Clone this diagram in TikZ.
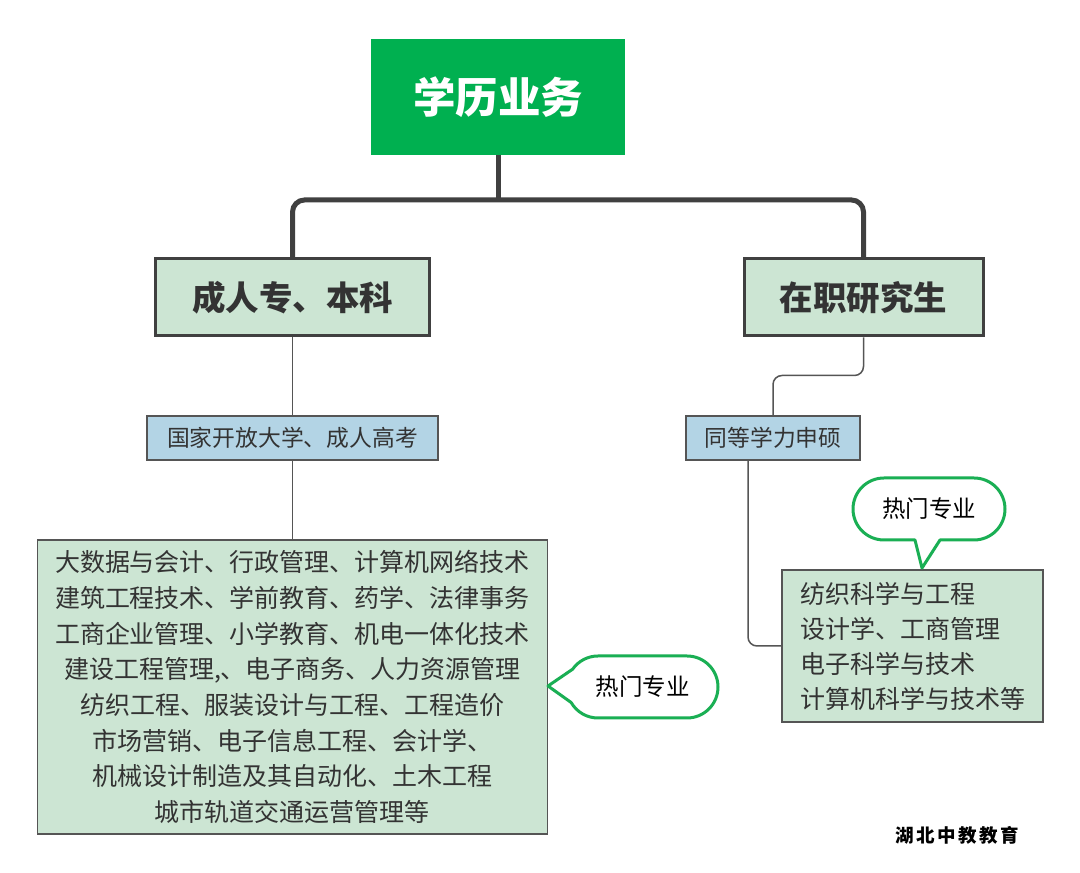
\documentclass[tikz,border=0pt]{standalone}
\usepackage{fontspec}
\setmainfont{Noto Sans CJK SC}
\newfontfamily\wmfont[LetterSpace=14]{Noto Sans CJK SC}
\usetikzlibrary{calc}
\definecolor{tgreen}{HTML}{00B050}
\definecolor{lgreen}{HTML}{CCE5D3}
\definecolor{lblue}{HTML}{B3D4E5}
\definecolor{dk}{HTML}{404040}
\definecolor{ln}{HTML}{555555}
\definecolor{cgreen}{HTML}{1AAF54}
\definecolor{txt}{HTML}{333333}
\begin{document}
\begin{tikzpicture}[x=1pt,y=1pt,
  titlebox/.style={fill=tgreen, draw=none, minimum width=254pt, minimum height=116pt, text=white, font=\fontsize{42.5}{46}\selectfont\bfseries},
  lvbox/.style={draw=dk, line width=3pt, fill=lgreen, minimum height=77pt, text=txt, font=\fontsize{33.5}{36}\selectfont\bfseries},
  bluebox/.style={draw=ln, line width=1.6pt, fill=lblue, minimum height=44pt, text=txt, font=\fontsize{22.8}{24}\selectfont},
  listbox/.style={draw=ln, line width=1.6pt, fill=lgreen, text=txt, font=\fontsize{25}{35.7}\selectfont},
  thickline/.style={draw=dk, line width=5pt, rounded corners=12pt},
  thinline/.style={draw=ln, line width=1.5pt, rounded corners=9pt},
  bubble/.style={draw=cgreen, line width=3pt, fill=white, line join=round},
  bubbletext/.style={text=black, font=\fontsize{23.5}{26}\selectfont}]
\useasboundingbox[fill=white] (0,0) rectangle (1080,873);

\node[titlebox] (title) at (498,776) {学历业务};
\node[lvbox, minimum width=274pt] (L1) at (292.5,575.5) {成人专、本科};
\node[lvbox, minimum width=239pt] (L2) at (863.5,575.5) {在职研究生};
\node[bluebox, minimum width=291pt] (B1) at (292.5,435) {国家开放大学、成人高考};
\node[bluebox, minimum width=174pt] (B2) at (773,435) {同等学力申硕};
\node[listbox, minimum width=510pt, minimum height=294pt, align=center] (big1) at (292.5,186)
  {大数据与会计、行政管理、计算机网络技术\\建筑工程技术、学前教育、药学、法律事务\\工商企业管理、小学教育、机电一体化技术\\建设工程管理,、电子商务、人力资源管理\\纺织工程、服装设计与工程、工程造价\\市场营销、电子信息工程、会计学、\\机械设计制造及其自动化、土木工程\\城市轨道交通运营管理等};
\node[listbox, font=\fontsize{25}{35}\selectfont, text width=225pt, inner xsep=18pt, minimum height=152pt, align=left] (big2) at (912.5,227)
  {纺织科学与工程\\设计学、工商管理\\电子科学与技术\\计算机科学与技术等};

\coordinate (hub) at (498,673);
\draw[thickline] (title.south) -- (hub);
\draw[thickline] (L1.north) |- (hub) -| (L2.north);

\draw[thinline] (L1.south) -- (B1.north);
\draw[thinline] (B1.south) -- (big1.north);
\draw[thinline] (L2.south) -- ++(0,-38) -| (B2.north);
\coordinate (B2out) at ([xshift=-25pt]B2.south);
\draw[thinline] (B2out) |- (big2.west);

% left callout
\draw[bubble] (598,217) -- (687,217) arc[start angle=90,end angle=-90,radius=31]
  -- (598,155) arc[start angle=270,end angle=210,radius=31]
  -- (548,187) -- ($(598,186)+(145:31)$) arc[start angle=145,end angle=90,radius=31] -- cycle;
\node[bubbletext] (hot1) at (642.5,186) {热门专业};

% right callout
\draw[bubble] (884,395) -- (974,395) arc[start angle=90,end angle=-90,radius=31]
  -- (940,333) -- (922,305) -- (915,333) -- (884,333)
  arc[start angle=270,end angle=90,radius=31] -- cycle;
\node[bubbletext] (hot2) at (929,364) {热门专业};

\node[font=\wmfont\fontsize{18.5}{18.5}\selectfont\bfseries, text=black] (wm) at (957,38) {湖北中教教育};
\end{tikzpicture}
\end{document}
